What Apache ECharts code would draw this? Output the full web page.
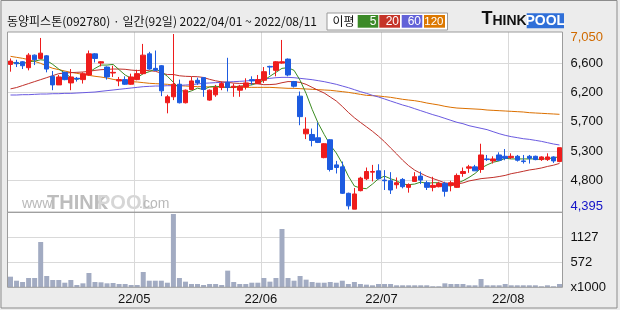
<!DOCTYPE html>
<html><head><meta charset="utf-8">
<script src="https://cdn.jsdelivr.net/npm/echarts@6/dist/echarts.min.js"></script>
<style>html,body{margin:0;padding:0;background:#ececec}#c{width:620px;height:310px}</style>
</head><body><div id="c"></div><script>
const dates = ['2022-04-01','2022-04-04','2022-04-05','2022-04-06','2022-04-07','2022-04-08','2022-04-11','2022-04-12','2022-04-13','2022-04-14','2022-04-15','2022-04-18','2022-04-19','2022-04-20','2022-04-21','2022-04-22','2022-04-25','2022-04-26','2022-04-27','2022-04-28','2022-04-29',
'2022-05-02','2022-05-03','2022-05-04','2022-05-06','2022-05-09','2022-05-10','2022-05-11','2022-05-12','2022-05-13','2022-05-16','2022-05-17','2022-05-18','2022-05-19','2022-05-20','2022-05-23','2022-05-24','2022-05-25','2022-05-26','2022-05-27','2022-05-30','2022-05-31',
'2022-06-02','2022-06-03','2022-06-07','2022-06-08','2022-06-09','2022-06-10','2022-06-13','2022-06-14','2022-06-15','2022-06-16','2022-06-17','2022-06-20','2022-06-21','2022-06-22','2022-06-23','2022-06-24','2022-06-27','2022-06-28','2022-06-29','2022-06-30',
'2022-07-01','2022-07-04','2022-07-05','2022-07-06','2022-07-07','2022-07-08','2022-07-11','2022-07-12','2022-07-13','2022-07-14','2022-07-15','2022-07-18','2022-07-19','2022-07-20','2022-07-21','2022-07-22','2022-07-25','2022-07-26','2022-07-27','2022-07-28','2022-07-29',
'2022-08-01','2022-08-02','2022-08-03','2022-08-04','2022-08-05','2022-08-08','2022-08-09','2022-08-10','2022-08-11'];

const opens = [6590,6620,6630,6540,6730,6680,6720,6410,6280,6470,6310,6380,6360,6430,6750,6610,6550,6460,6340,6360,
6290,6360,6450,6750,6530,6570,6010,6100,6290,6010,6210,6350,6390,6050,6130,6240,6320,6240,6200,6250,
6360,6300,6350,6560,6500,6610,6670,6330,6110,5540,5530,5480,5180,5450,5070,5040,4640,4400,4680,4860,
4960,4980,4840,4830,4770,4850,4730,4820,4900,4800,4730,4740,4790,4760,4730,4940,5020,5040,5000,5160,
5130,5220,5200,5180,5200,5130,5200,5200,5150,5150,5190,5120];
const closes = [6640,6600,6570,6730,6660,6760,6520,6280,6400,6360,6400,6370,6450,6750,6680,6630,6400,6470,6360,6290,
6400,6450,6730,6520,6500,6190,6100,6290,6010,6200,6340,6310,6210,6200,6240,6300,6240,6260,6260,6310,
6340,6360,6480,6550,6630,6630,6430,6260,5800,5610,5440,5410,5390,5000,5030,4640,4450,4630,4870,4970,
4970,4860,4830,4690,4800,4740,4770,4890,4840,4730,4760,4790,4670,4800,4910,4970,5040,4980,5220,5150,
5160,5140,5170,5200,5140,5120,5170,5150,5190,5190,5130,5330];
const lows = [6480,6550,6520,6500,6580,6670,6470,6200,6280,6350,6200,6330,6300,6420,6620,6560,6360,6400,6260,6280,
6280,6350,6440,6510,6490,6110,5850,6050,6000,6000,6200,6280,6100,6040,6100,6200,6180,6100,6100,6210,
6280,6300,6310,6430,6410,6600,6410,6240,5670,5460,5350,5400,5170,4970,4940,4630,4395,4400,4670,4840,
4820,4850,4690,4630,4710,4715,4650,4815,4780,4690,4670,4730,4590,4670,4720,4890,4950,4980,4950,5130,
5090,5130,5140,5160,5120,5090,5090,5140,5130,5130,5100,5110];
const highs = [6680,6660,6640,6760,6740,6990,6730,6490,6430,6480,6520,6400,6470,6800,6760,6640,6560,6570,6400,6410,
6450,6510,6900,6780,6800,6580,6130,7050,6360,6210,6400,6390,6400,6210,6280,6330,6690,6300,6280,6380,
6410,6430,6550,6570,6640,6960,6680,6340,6180,5790,5620,5710,5400,5460,5130,5120,4650,4720,4890,5030,
5070,5080,4990,4960,4880,4870,4790,4960,4970,4830,4890,4815,4815,4830,4940,5030,5070,5070,5390,5220,
5200,5260,5310,5245,5220,5220,5220,5210,5200,5245,5200,5330];

const ma5 = [6620,6610,6600,6630,6640,6660,6650,6590,6520,6460,6390,6360,6400,6470,6530,6580,6580,6590,6510,6430,
6380,6390,6450,6480,6520,6480,6410,6320,6220,6160,6190,6230,6210,6250,6260,6250,6240,6250,6260,6270,
6280,6310,6350,6410,6470,6530,6540,6500,6350,6150,5910,5700,5530,5370,5250,5090,4900,4750,4720,4710,
4780,4860,4900,4860,4830,4780,4770,4780,4810,4790,4800,4800,4760,4750,4790,4830,4880,4940,5020,5070,
5110,5130,5170,5160,5160,5160,5160,5160,5150,5170,5170,5200];
const ma20 = [6220,6240,6270,6300,6330,6360,6390,6420,6450,6460,6465,6470,6475,6485,6500,6510,6515,6520,6520,6516,
6504,6497,6505,6494,6486,6458,6437,6437,6418,6410,6407,6404,6392,6364,6342,6326,6318,6307,6302,6303,
6300,6296,6283,6285,6291,6313,6330,6328,6318,6288,6243,6198,6157,6097,6037,5954,5864,5783,5713,5646,
5578,5503,5420,5327,5236,5141,5058,4990,4942,4898,4864,4833,4797,4787,4781,4797,4827,4844,4862,4871,
4880,4894,4911,4937,4954,4973,4993,5006,5023,5046,5065,5092];
const ma60 = [6127,6127,6132,6132,6137,6142,6142,6147,6147,6152,6152,6157,6162,6167,6172,6183,6193,6203,6213,6223,
6233,6243,6253,6258,6263,6263,6268,6268,6273,6278,6283,6294,6304,6309,6314,6319,6324,6329,6334,6339,
6349,6359,6369,6379,6389,6394,6394,6389,6379,6369,6359,6344,6329,6309,6289,6263,6238,6208,6178,6152,
6122,6097,6067,6036,6006,5976,5951,5920,5890,5860,5830,5804,5774,5744,5714,5693,5663,5643,5623,5603,
5572,5542,5517,5497,5482,5466,5456,5441,5426,5406,5386,5371];
const ma120 = [6712,6697,6682,6662,6636,6606,6566,6531,6511,6490,6470,6455,6440,6425,6410,6399,6384,6364,6349,6339,
6329,6324,6314,6304,6299,6294,6289,6278,6268,6263,6258,6253,6253,6248,6248,6248,6243,6243,6243,6243,
6243,6243,6243,6243,6238,6233,6228,6228,6223,6218,6213,6208,6203,6198,6188,6178,6167,6152,6137,6122,
6117,6112,6102,6092,6077,6062,6051,6041,6026,6006,5991,5976,5956,5941,5930,5925,5920,5915,5910,5900,
5895,5890,5885,5880,5875,5870,5860,5855,5850,5845,5840,5835];

const volumes = [243,151,121,213,213,1036,259,167,167,105,167,53,91,327,121,114,91,98,76,76,
53,53,350,151,151,151,105,1677,213,129,76,76,53,76,76,53,381,121,76,76,
105,105,213,129,213,1334,213,151,259,175,121,105,105,121,105,151,76,121,76,61,
46,76,76,76,46,46,46,46,46,46,23,23,91,76,76,76,46,46,190,46,
46,46,76,46,46,46,46,46,23,46,23,76];

const monthLabels = ['22/05','22/06','22/07','22/08'];
const priceTickLabels = ['4,395','4,800','5,300','5,700','6,200','6,600','7,050'];
const volTickLabels = ['x1000','572','1127',''];
const maNames = ['5','20','60','120'];

const monthStarts = dates.map((d,i)=> (i>0 && d.slice(5,7)!==dates[i-1].slice(5,7)) ? i : -1).filter(i=>i>=0);

const L = 7.5, W = 555, PT = 34, PH = 175.5, VT = 212.3, VH = 75;
const FONT = 'Liberation Sans';
const C_UP = '#ee1c1c', C_DN = '#1d5be0';
const C_MA = ['#3b8c22', '#c0302a', '#6a5ae0', '#dc7000'];
const C_LEG = ['#3c8a28', '#c53428', '#6262d8', '#dc7800'];

const chart = echarts.init(document.getElementById('c'), null, {renderer:'canvas', width:620, height:310});

const gridLineColor = '#d9d9d9';

const option = {
  animation: false,
  backgroundColor: '#ececec',
  grid: [
    {left:L, top:PT, width:W, height:PH, outerBoundsMode:'none'},
    {left:L, top:VT, width:W, height:VH, outerBoundsMode:'none'},
    {left:L, top:32, width:W, height:255.3, outerBoundsMode:'none'}
  ],
  xAxis: [
    {type:'category', gridIndex:0, data:dates, boundaryGap:true, axisLine:{show:false}, axisTick:{show:false}, axisLabel:{show:false}, splitLine:{show:false}},
    {type:'category', gridIndex:1, data:dates, boundaryGap:true, axisLine:{show:false}, axisTick:{show:false}, splitLine:{show:false},
      axisLabel:{
        show:true, hideOverlap:false, margin:6,
        interval:(i)=>monthStarts.indexOf(i)>=0,
        formatter:(v,i)=>'{a|'+monthLabels[monthStarts.indexOf(i)]+'}',
        rich:{a:{fontFamily:FONT, fontSize:13, color:'#111', padding:[0,6,0,0]}}
      }},
    {type:'category', gridIndex:2, data:dates, boundaryGap:true, axisLine:{show:false}, axisTick:{show:false}, axisLabel:{show:false},
      splitLine:{show:true, interval:(i)=>monthStarts.indexOf(i)>=0, lineStyle:{color:gridLineColor, width:1}}}
  ],
  yAxis: [
    {type:'value', gridIndex:0, position:'right', min:4395, max:7050, interval:442.5, scale:true,
      axisLine:{show:false}, axisTick:{show:false},
      splitLine:{show:true, lineStyle:{color:['rgba(0,0,0,0)',gridLineColor,gridLineColor,gridLineColor,gridLineColor,gridLineColor,'rgba(0,0,0,0)']}},
      axisLabel:{margin:8, hideOverlap:false,
        formatter:(v,i)=>{
          const t = priceTickLabels[i];
          if (i===0) return '{lo|'+t+'}';
          if (i===priceTickLabels.length-1) return '{hi|'+t+'}';
          return '{n|'+t+'}';
        },
        rich:{
          n:{fontFamily:FONT, fontSize:13, color:'#111'},
          hi:{fontFamily:FONT, fontSize:13, color:'#d06a00', padding:[7,0,0,0]},
          lo:{fontFamily:FONT, fontSize:13, color:'#1414c8', padding:[0,0,6,0]}
        }}},
    {type:'value', gridIndex:1, position:'right', min:0, max:1716, interval:572,
      axisLine:{show:false}, axisTick:{show:false},
      splitLine:{show:true, lineStyle:{color:['rgba(0,0,0,0)',gridLineColor,gridLineColor,'rgba(0,0,0,0)']}},
      axisLabel:{margin:8, hideOverlap:false, fontFamily:FONT, fontSize:13, color:'#111',
        formatter:(v,i)=>volTickLabels[i] || ''}},
    {type:'value', gridIndex:2, show:false, splitLine:{show:false}}
  ],
  series: [
    {type:'line', name:'MA120', xAxisIndex:0, yAxisIndex:0, data:ma120, symbol:'none', z:1, lineStyle:{color:C_MA[3], width:1}},
    {type:'line', name:'MA60', xAxisIndex:0, yAxisIndex:0, data:ma60, symbol:'none', z:1, lineStyle:{color:C_MA[2], width:1}},
    {type:'line', name:'MA20', xAxisIndex:0, yAxisIndex:0, data:ma20, symbol:'none', z:1, lineStyle:{color:C_MA[1], width:1}},
    {type:'line', name:'MA5', xAxisIndex:0, yAxisIndex:0, data:ma5, symbol:'none', z:1, lineStyle:{color:C_MA[0], width:1}},
    {type:'candlestick', xAxisIndex:0, yAxisIndex:0, barWidth:5, z:3,
      data: dates.map((d,i)=>[opens[i], closes[i], lows[i], highs[i]]),
      itemStyle:{color:C_UP, color0:C_DN, borderColor:C_UP, borderColor0:C_DN, borderWidth:1}},
    {type:'bar', xAxisIndex:1, yAxisIndex:1, data:volumes, barWidth:5, itemStyle:{color:'#a2abc2'}}
  ],
  graphic: [
    {type:'rect', z:-10, silent:true, shape:{x:L, y:32, width:W, height:255.3}, style:{fill:'#ffffff'}},
    // watermark
    {type:'text', z:-5, left:22, top:197, style:{text:'www.', font:'14px "Liberation Sans"', fill:'#b9b9b9'}},
    {type:'text', z:-5, left:47, top:193, style:{text:'THINK', font:'bold 20px "Liberation Sans"', fill:'#bdbdbd'}},
    {type:'text', z:-5, left:97, top:193, style:{text:'POOL', font:'bold 20px "Liberation Sans"', fill:'#d6d6d6'}},
    {type:'text', z:-5, left:139, top:197, style:{text:'.com', font:'14px "Liberation Sans"', fill:'#b9b9b9'}},
    // panel borders
    {type:'rect', z:100, silent:true, shape:{x:L, y:32, width:W, height:VT-32}, style:{fill:null, stroke:'#9c9c9c', lineWidth:1}},
    {type:'rect', z:100, silent:true, shape:{x:L, y:VT, width:W, height:VH}, style:{fill:null, stroke:'#9c9c9c', lineWidth:1}},
    // outer frame
    {type:'rect', z:100, silent:true, shape:{x:1, y:0.5, width:616, height:307.5}, style:{fill:null, stroke:'#8c8c8c', lineWidth:1}},
    // title
    {type:'text', z:50, x:7, y:21, style:{text:'동양피스톤(092780) · 일간(92일) 2022/04/01 ~ 2022/08/11', font:'12px "Noto Sans CJK KR"', fill:'#111', verticalAlign:'middle'}},
    // legend box
    {type:'rect', z:50, shape:{x:327, y:13, width:120.5, height:17}, style:{fill:'#ffffff', stroke:'#9a9a9a', lineWidth:1}},
    {type:'text', z:51, x:332.5, y:21.5, style:{text:'이평', font:'12px "Noto Sans CJK KR"', fill:'#111', verticalAlign:'middle'}},
    {type:'rect', z:51, shape:{x:357.7, y:15, width:20.6, height:12.7}, style:{fill:C_LEG[0]}},
    {type:'rect', z:51, shape:{x:379.3, y:15, width:20.7, height:12.7}, style:{fill:C_LEG[1]}},
    {type:'rect', z:51, shape:{x:401.7, y:15, width:20.6, height:12.7}, style:{fill:C_LEG[2]}},
    {type:'rect', z:51, shape:{x:424, y:15, width:21, height:12.7}, style:{fill:C_LEG[3]}},
    {type:'text', z:52, x:376.5, y:21.5, style:{text:maNames[0], font:'12px "Liberation Sans"', fill:'#fff', align:'right', verticalAlign:'middle'}},
    {type:'text', z:52, x:399, y:21.5, style:{text:maNames[1], font:'12px "Liberation Sans"', fill:'#fff', align:'right', verticalAlign:'middle'}},
    {type:'text', z:52, x:421, y:21.5, style:{text:maNames[2], font:'12px "Liberation Sans"', fill:'#fff', align:'right', verticalAlign:'middle'}},
    {type:'text', z:52, x:443.5, y:21.5, style:{text:maNames[3], font:'11.5px "Liberation Sans"', fill:'#fff', align:'right', verticalAlign:'middle'}},
    // logo
    {type:'rect', z:51, shape:{x:526.7, y:13.3, width:37.3, height:15}, style:{fill:'#2f6fd8'}},
    {type:'text', z:52, x:481.5, y:28.5, style:{text:'{t|T}{h|HINK}', verticalAlign:'bottom',
      rich:{t:{font:'bold 18px "Liberation Sans"', fill:'#111', verticalAlign:'bottom'}, h:{font:'bold 14px "Liberation Sans"', fill:'#111', verticalAlign:'bottom'}}}},
    {type:'text', z:52, x:545.3, y:21.3, style:{text:'POOL', font:'bold 14px "Liberation Sans"', fill:'#fff', align:'center', verticalAlign:'middle'}}
  ]
};
chart.setOption(option);
</script></body></html>
